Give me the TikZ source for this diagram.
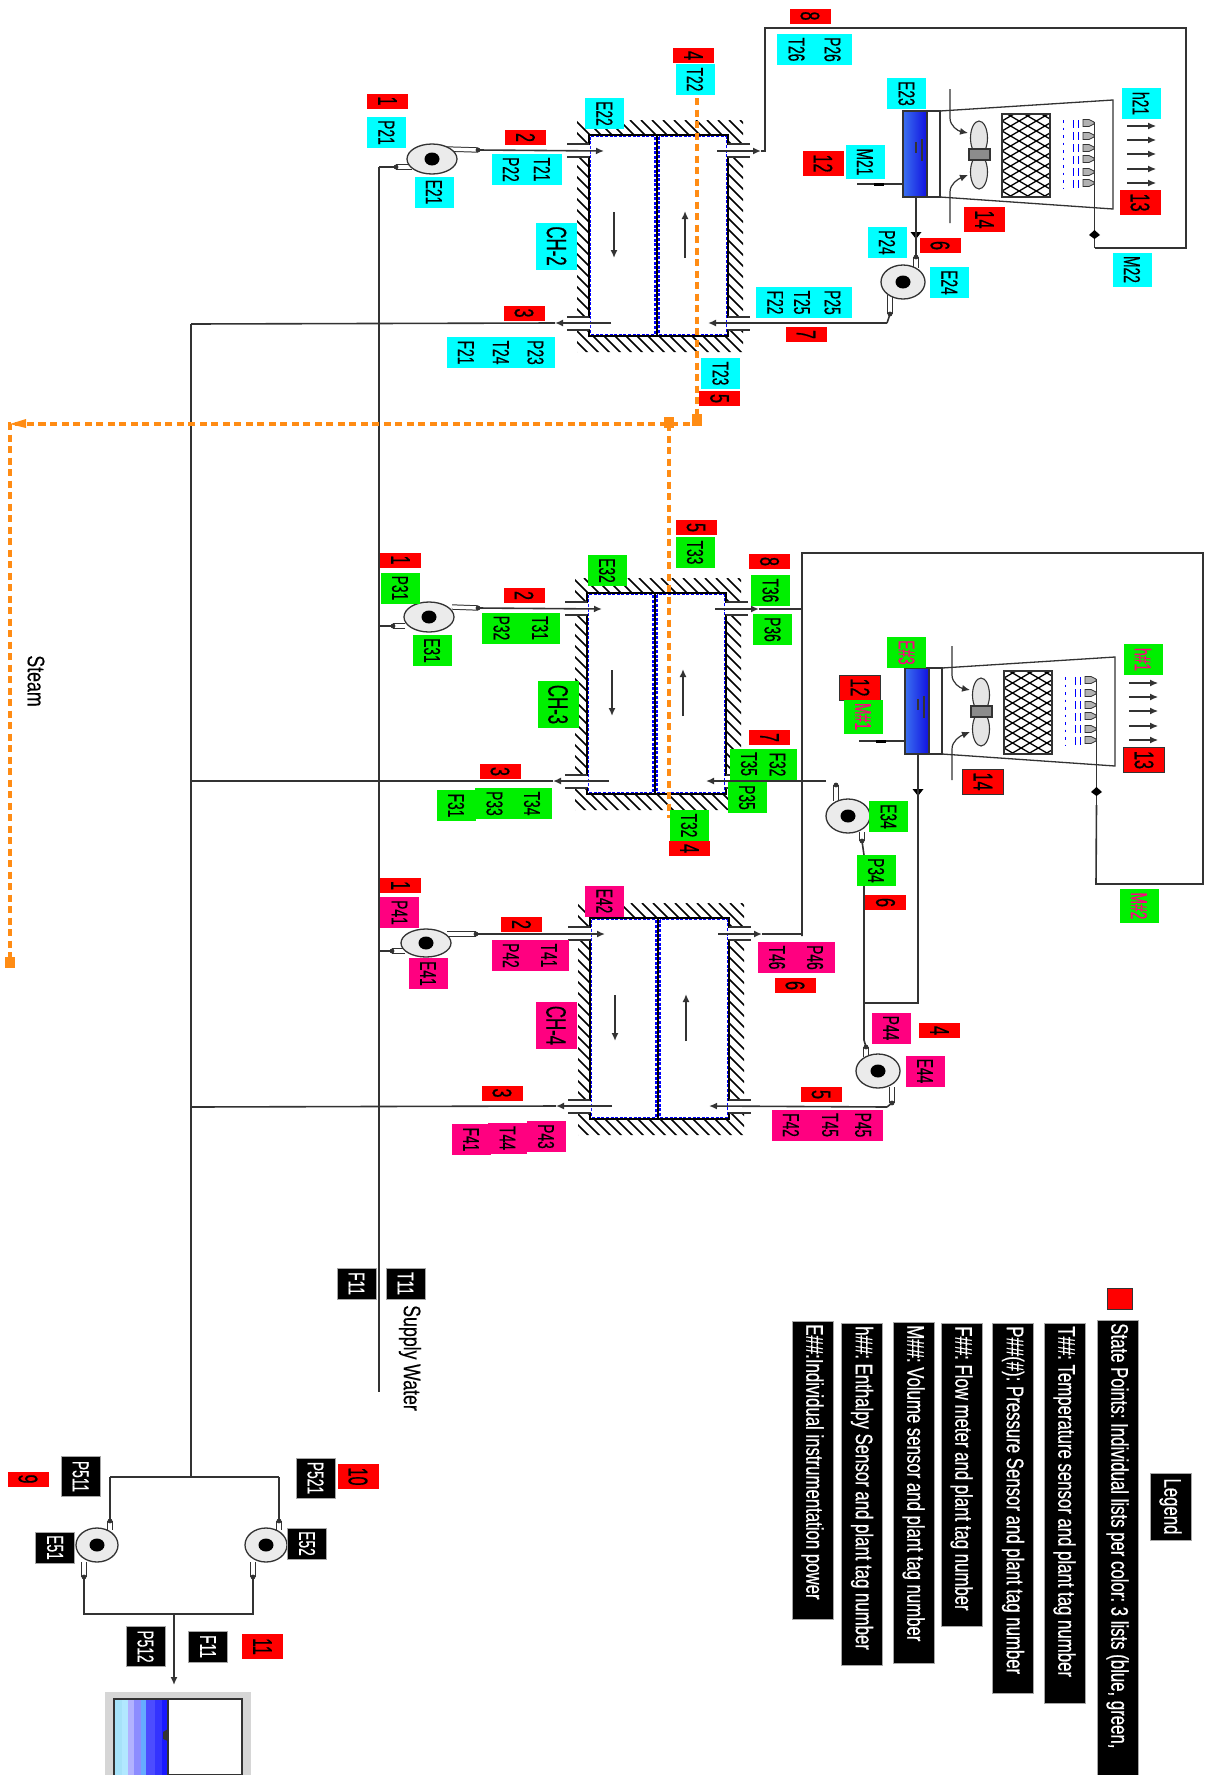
\documentclass[tikz,border=0pt]{standalone}
\usepackage{fontspec}
\usetikzlibrary{arrows.meta,shapes.geometric}
\setmainfont{Liberation Sans}
\newfontfamily\tagf[FakeStretch=0.60,FakeBold=0.4]{Liberation Sans}
\newfontfamily\legf[FakeStretch=0.70,FakeBold=0.5]{Liberation Sans}
\newfontfamily\labf[FakeStretch=0.74,FakeBold=0.3]{Liberation Sans}
\newcommand{\tagfnt}{\tagf\fontsize{23}{23}\selectfont}
\newcommand{\redfnt}{\tagf\fontsize{27}{27}\selectfont}
\newcommand{\chfnt}{\tagf\fontsize{28}{28}\selectfont}
\newcommand{\legfnt}{\legf\fontsize{24}{24}\selectfont}
\newcommand{\labfnt}{\labf\fontsize{24}{24}\selectfont}
\newcommand{\legline}[1]{\mbox{\spaceskip=4.6pt\relax\xspaceskip=4.6pt\relax #1}}
\definecolor{tcy}{HTML}{00FFFF}
\definecolor{tgr}{HTML}{00F000}
\definecolor{tpk}{HTML}{FF0080}
\definecolor{tred}{HTML}{FF0000}
\definecolor{pipec}{HTML}{333333}
\definecolor{steamc}{HTML}{FF8C14}
\definecolor{basinl}{HTML}{3A70F0}
\definecolor{basinr}{HTML}{1010E0}
\tikzset{
 ct/.style={rectangle,rotate=-90,inner sep=0pt,minimum width=31pt,minimum height=39pt,font=\tagfnt,text=black},
 cyt/.style={ct,fill=tcy},
 grt/.style={ct,fill=tgr},
 grp/.style={ct,fill=tgr,text=tpk},
 pkt/.style={ct,fill=tpk},
 blt/.style={ct,fill=black,text=white,draw=gray!70,line width=.6pt},
 redt/.style={ct,fill=tred,minimum width=15pt,minimum height=41pt,font=\redfnt},
 redw/.style={redt,minimum width=25pt},
 redb/.style={redw,draw=black!80,line width=1pt},
 chcy/.style={cyt,minimum width=47pt,minimum height=41pt,font=\chfnt},
 chgr/.style={grt,minimum width=47pt,minimum height=41pt,font=\chfnt},
 chpk/.style={pkt,minimum width=47pt,minimum height=41pt,font=\chfnt},
 legbox/.style={rectangle,rotate=-90,anchor=west,inner xsep=3pt,inner ysep=0pt,minimum height=41pt,fill=black,draw=gray!70,line width=.6pt,text=white,font=\legfnt,align=left},
 pipe/.style={draw=pipec,line width=1.6pt,>={Latex[length=8pt,width=7pt]}},
 stubp/.style={draw=pipec,double=white,double distance=3.4pt,line width=1pt},
 steam/.style={draw=steamc,line width=3.6pt,dash pattern=on 7pt off 4.5pt},
 steamdot/.style={fill=steamc},
 pumpbody/.style={ellipse,draw=pipec,fill=black!8,line width=1.3pt,inner sep=0pt},
 hatchl/.style={draw=black,line width=1.6pt},
 bluedash/.style={draw=blue,line width=1.1pt,dash pattern=on 3pt off 1.6pt},
}
\newcommand{\chamberbox}[3]{%
 \begin{scope}[shift={(#2,#3)}]
  \begin{scope}[even odd rule]
   \clip (-12,-15) rectangle (154,217) (0,0) rectangle (139,201);
   \foreach \i in {-245,-234,...,155} \draw[hatchl] (\i,-15) -- ++(240,240);
  \end{scope}
  \fill[white] (-13,9) rectangle (0,22) (-13,182) rectangle (0,195) (139,9) rectangle (155,22) (139,182) rectangle (155,195);
  \node (#1) [rectangle,draw=black,fill=white,line width=1.3pt,inner sep=0pt,minimum width=139pt,minimum height=201pt] at (69.5,100.5) {};
  \draw[bluedash] (1.8,1.8) rectangle (66,199.2);
  \draw[bluedash] (70,1.8) rectangle (137.2,199.2);
  \draw[draw=black,line width=2pt] (68,0) -- (68,201);
  \fill[white] (-1,10) rectangle (1,21) (-1,183) rectangle (1,194) (138,10) rectangle (140,21) (138,183) rectangle (140,194);
  \foreach \y in {9,22,182,195} {\draw[pipe,line width=1.2pt] (-22,\y) -- (0,\y); \draw[pipe,line width=1.2pt] (139,\y) -- (161,\y);}
  \coordinate (#1-ti) at (15,16);
  \coordinate (#1-to) at (128,16);
  \coordinate (#1-tt) at (172,16);
  \coordinate (#1-bo) at (22,188);
  \coordinate (#1-bt) at (-34,188);
  \coordinate (#1-bi) at (119,188);
  \draw[pipe,->] (#1-to) -- (#1-tt);
  \draw[pipe,->] (#1-bo) -- (#1-bt);
  \draw[pipe,->] (25,77) -- (25,123);
  \draw[pipe,->] (96,123) -- (96,76);
 \end{scope}}
\newcommand{\towerbox}[3]{%
 \begin{scope}[shift={(#2,#3)}]
  \draw[pipe,line width=1.3pt,fill=white] (37,0) -- (210,-11) -- (210,98) -- (37,86) -- cycle;
  \draw[pipe,fill=white] (24,0) rectangle (37,86);
  \shade[left color=basinl,right color=basinr,draw=pipec,line width=1.6pt] (0,0) rectangle (24,86);
  \coordinate (#1-b) at (13,86);
  \coordinate (#1-bm) at (13,124);
  \draw[pipe,line width=1.2pt] (13,31) -- (13,42);
  \draw[pipe,line width=1.2pt] (19,28) -- (19,50);
  \draw[pipe,->,line width=1.2pt] (47,-22) -- (47,7) .. controls (47,15) and (55,20) .. (65,22);
  \draw[pipe,->,line width=1.2pt] (47,112) -- (47,81) .. controls (47,73) and (55,68) .. (65,64);
  \draw[pipe,line width=1.1pt,fill=black!10] (76,27) ellipse [x radius=8.5pt,y radius=17pt];
  \draw[pipe,line width=1.1pt,fill=black!10] (76,61) ellipse [x radius=8.5pt,y radius=17pt];
  \draw[pipe,line width=1.1pt,fill=black!45] (66,38) rectangle (87,49);
  \begin{scope}
   \clip (99,3) rectangle (147,86);
   \foreach \i in {-40,-30,...,120} {\draw[draw=black,line width=1.3pt] (99,\i) -- ++(48,28); \draw[draw=black,line width=1.3pt] (99,\i) -- ++(48,-28);}
  \end{scope}
  \draw[pipe,line width=1.6pt] (99,3) rectangle (147,86);
  \draw[blue,line width=1pt,dash pattern=on 2.5pt off 5pt] (160,9) -- (160,77);
  \draw[blue,line width=1pt,dash pattern=on 8pt off 4pt] (170,9) -- (170,77);
  \draw[blue,line width=1pt,dash pattern=on 8pt off 4pt] (175,9) -- (175,77);
  \foreach \y in {12,25,37,48,61,72} \draw[draw=pipec,line width=.8pt,fill=black!30] (180,{\y-3.5}) -- (186,{\y-3.5}) -- (191,{\y-1}) -- (191,{\y+1}) -- (186,{\y+3.5}) -- (180,{\y+3.5}) -- cycle;
  \coordinate (#1-h0) at (191.5,11);
  \coordinate (#1-hm) at (191.5,124);
  \coordinate (#1-h) at (191.5,137);
  \draw[pipe] (#1-h) -- (#1-h0);
  \fill[black] (186,124) -- (191.5,119) -- (197,124) -- (191.5,128) -- cycle;
  \fill[black] (7.5,121) -- (18.5,121) -- (13,128) -- cycle;
  \foreach \y in {15,29,43,58,72} \draw[pipe,->,line width=1.1pt] (224,\y) -- (253,\y);
  \coordinate (#1-w0) at (-46,73);
  \coordinate (#1-w1) at (0,73);
  \draw[pipe,line width=1.2pt] (#1-w0) -- (#1-w1);
  \fill[black] (-29,71.5) rectangle (-19,74.5);
 \end{scope}}
\newcommand{\pumpn}[5]{%
 \node (#1) [pumpbody,minimum width=#4pt,minimum height=#5pt] at (#2,#3) {};
 \fill[black] (#2,#3) ellipse [x radius=7.5pt,y radius=6.5pt];}
\newcommand{\stubn}[5]{%
 \coordinate (#1a) at (#2,#3);
 \coordinate (#1b) at (#4,#5);
 \draw[stubp] (#1a) -- (#1b);
 \fill[pipec] (#1b) circle [radius=2.4pt];}
\begin{document}
\begin{tikzpicture}[x=1pt,y=-1pt]
\useasboundingbox (0,0) rectangle (1217,1775);
\clip (0,0) rectangle (1217,1775);
% chambers and towers
\chamberbox{c2}{589}{135}
\chamberbox{c3}{587}{593}
\chamberbox{c4}{590}{918}
\towerbox{t2}{903}{111}
\towerbox{t3}{905}{668}
% pumps
\stubn{s21i}{412}{167}{396}{167}
\stubn{s21o}{447}{149}{478}{150}
\stubn{s31i}{405}{626}{393}{626}
\stubn{s31o}{452}{607}{478}{608}
\stubn{s41i}{405}{951}{392}{951}
\stubn{s41o}{447}{934}{476}{934}
\stubn{s24i}{916}{268}{916}{257}
\stubn{s24o}{890}{295}{890}{314}
\stubn{s34i}{862}{832}{862}{841}
\stubn{s34o}{836}{801}{836}{785}
\stubn{s44i}{866}{1057}{866}{1047}
\stubn{s44o}{892}{1087}{892}{1103}
\stubn{s51i}{110}{1530}{110}{1521}
\stubn{s51o}{84}{1562}{84}{1577}
\stubn{s52i}{279}{1530}{279}{1521}
\stubn{s52o}{253}{1562}{253}{1577}
\pumpn{p21}{432}{159}{50}{30}
\pumpn{p24}{903}{282}{44}{34}
\pumpn{p31}{429}{617}{50}{30}
\pumpn{p34}{848}{816}{44}{34}
\pumpn{p41}{426}{943}{50}{28}
\pumpn{p44}{878}{1071}{44}{34}
\pumpn{p51}{97}{1545}{42}{34}
\pumpn{p52}{266}{1545}{42}{34}
% pipe junctions
\coordinate (supTop) at (379,167);
\coordinate (supEnd) at (379,1392);
\coordinate (sup3) at (379,626);
\coordinate (sup4) at (379,951);
\coordinate (retTop) at (191,324);
\coordinate (ret3) at (191,781);
\coordinate (ret4) at (191,1107);
\coordinate (retEnd) at (191,1477);
\coordinate (headL) at (110,1477);
\coordinate (headR) at (279,1477);
\coordinate (dropL) at (84,1614);
\coordinate (dropR) at (253,1614);
\coordinate (dropM) at (174,1614);
\coordinate (tankTip) at (174,1685);
\coordinate (a1) at (765,151);
\coordinate (a2) at (765,28);
\coordinate (a3) at (1186,28);
\coordinate (a4) at (1186,248);
\coordinate (b1) at (802,553);
\coordinate (b2) at (1203,553);
\coordinate (b3) at (1203,884);
\coordinate (b4) at (1096,884);
\coordinate (b5) at (802,936);
\coordinate (b6) at (802,609);
\coordinate (b7) at (802,934);
\coordinate (d1) at (826,781);
\coordinate (d2) at (864,855);
\coordinate (d3) at (864,1040);
\coordinate (d4) at (864,1003);
\coordinate (d5) at (918,1003);
\coordinate (e1) at (887,323);
\coordinate (e2) at (887,1107);
% pipes
\draw[pipe] (supTop) -- (supEnd);
\draw[pipe] (supTop) -- (s21ib);
\draw[pipe] (sup3) -- (s31ib);
\draw[pipe] (sup4) -- (s41ib);
\draw[pipe,->] (s21ob) -- (c2-ti);
\draw[pipe,->] (s31ob) -- (c3-ti);
\draw[pipe,->] (s41ob) -- (c4-ti);
\draw[pipe] (c2-bt) -- (retTop);
\draw[pipe] (c3-bt) -- (ret3);
\draw[pipe] (c4-bt) -- (ret4);
\draw[pipe] (retTop) -- (retEnd);
\draw[pipe] (headL) -- (headR);
\draw[pipe] (headL) -- (s51ib);
\draw[pipe] (headR) -- (s52ib);
\draw[pipe] (s51ob) -- (dropL) -- (dropR) -- (s52ob);
\draw[pipe,->] (dropM) -- (tankTip);
\draw[pipe] (c2-tt) -- (a1) -- (a2) -- (a3) -- (a4) -- (t2-h);
\draw[pipe] (t2-b) -- (s24ib);
\draw[pipe] (s24ob) -- (e1);
\draw[pipe,->] (e1) -- (c2-bi);
\draw[pipe] (c3-tt) -- (b6);
\draw[pipe] (c4-tt) -- (b7);
\draw[pipe] (b5) -- (b1) -- (b2) -- (b3) -- (b4) -- (t3-h);
\draw[pipe,->] (d1) -- (c3-bi);
\draw[pipe] (s34ib) -- (d2) -- (d3) -- (s44ib);
\draw[pipe] (t3-b) -- (d5) -- (d4);
\draw[pipe] (s44ob) -- (e2);
\draw[pipe,->] (e2) -- (c4-bi);
% tank
\fill[black!16] (105,1692) rectangle (251,1775);
\draw[pipe,fill=white] (114,1699) rectangle (242,1775);
\fill[cyan!35!white] (115,1700) rectangle (122,1775);
\fill[blue!30!cyan!30!white] (122,1700) rectangle (128,1775);
\fill[blue!30!white] (128,1700) rectangle (134,1775);
\fill[blue!45!white] (134,1700) rectangle (141,1775);
\fill[blue!55!cyan!60!white] (141,1700) rectangle (146,1775);
\fill[blue!70!white] (146,1700) rectangle (155,1775);
\fill[blue!80!white] (155,1700) rectangle (162,1775);
\fill[blue!90!white] (162,1700) rectangle (168,1775);
\draw[pipe] (168,1699) -- (168,1775);
\fill[pipec] (168,1729) -- (163,1732) -- (163,1739) -- (168,1741) -- cycle;
% steam
\coordinate (st1) at (697,98);
\coordinate (st2) at (697,424);
\coordinate (st3) at (10,424);
\coordinate (st4) at (10,962);
\coordinate (st5) at (669,424);
\coordinate (st6) at (669,818);
\draw[steam] (st1) -- (st2) -- (st3) -- (st4);
\draw[steam] (st5) -- (st6);
\fill[steamdot] (692,414) rectangle (702,426);
\fill[steamdot] (664,417) rectangle (674,428);
\fill[steamdot] (10,424) -- (26,419) -- (26,428) -- cycle;
\fill[steamdot] (5,957) rectangle (15,968);
% tags CH-2
\node (r21) [redt] at (387.5,101) {1};
\node (tP21) [cyt] at (386.5,132.5) {P21};
\node (tE21) [cyt] at (434,192) {E21};
\node (r22) [redt] at (525.5,137.5) {2};
\node (tP22) [cyt] at (511,169.5) {P22};
\node (tT21) [cyt] at (542,169.5) {T21};
\node (tE22) [cyt] at (604.5,113.5) {E22};
\node (tCH2) [chcy] at (556.5,246) {CH-2};
\node (r24) [redt] at (693.5,55.5) {4};
\node (tT22) [cyt] at (695,79.5) {T22};
\node (tT23) [cyt] at (720.5,373.5) {T23};
\node (r25) [redt] at (719.5,398.5) {5};
\node (r23) [redt] at (524,313) {3};
\node (tF21) [cyt] at (466,352.5) {F21};
\node (tT24) [cyt] at (501,352.5) {T24};
\node (tP23) [cyt] at (535.5,352.5) {P23};
\node (r28) [redt] at (810,16) {8};
\node (tT26) [cyt] at (796.5,49.5) {T26};
\node (tP26) [cyt] at (832.5,49.5) {P26};
\node (tF22) [cyt] at (775.5,302.5) {F22};
\node (tT25) [cyt] at (802,302.5) {T25};
\node (tP25) [cyt] at (832.5,302.5) {P25};
\node (r27) [redt] at (806,334.5) {7};
\node (tE23) [cyt] at (906.5,93.5) {E23};
\node (th21) [cyt] at (1141,103.5) {h21};
\node (r213) [redw] at (1140,202.5) {13};
\node (r214) [redw] at (984.5,219.5) {14};
\node (r212) [redw] at (823,163.5) {12};
\node (tM21) [cyt,minimum width=34pt] at (865,162) {M21};
\node (tP24) [cyt] at (887,242.5) {P24};
\node (r26) [redt] at (940,245.5) {6};
\node (tE24) [cyt] at (949.5,282.5) {E24};
\node (tM22) [cyt,minimum width=34pt] at (1132,269.5) {M22};
% tags CH-3
\node (r31) [redt] at (400.5,560) {1};
\node (tP31) [grt] at (400,588) {P31};
\node (tE31) [grt] at (432,650.5) {E31};
\node (r32) [redt] at (524,595.5) {2};
\node (tP32) [grt] at (501.5,628) {P32};
\node (tT31) [grt] at (540,628) {T31};
\node (tE32) [grt] at (607,570.5) {E32};
\node (r35) [redt] at (696,527.5) {5};
\node (tT33) [grt] at (695,552.5) {T33};
\node (r38) [redt] at (769.5,561.5) {8};
\node (tT36) [grt] at (770.5,590.5) {T36};
\node (tP36) [grt] at (772.5,629.5) {P36};
\node (tCH3) [chgr] at (558,704.5) {CH-3};
\node (r37) [redt] at (769.5,737.5) {7};
\node (tF32) [grt] at (777.5,764.5) {F32};
\node (tT35) [grt] at (749,764) {T35};
\node (tP35) [grt] at (747,797.5) {P35};
\node (tT32) [grt] at (689,825.5) {T32};
\node (r34) [redt] at (689.5,848.5) {4};
\node (r33) [redt] at (500,771.5) {3};
\node (tF31) [grt] at (456,805.5) {F31};
\node (tP33) [grt] at (494.5,803.5) {P33};
\node (tT34) [grt] at (532,803.5) {T34};
\node (tE33) [grp] at (906.5,652.5) {E\#3};
\node (th31) [grp] at (1143,659.5) {h\#1};
\node (r313) [redb] at (1144,760) {13};
\node (r314) [redb] at (983,781.5) {14};
\node (r312) [redb] at (860,687.5) {12};
\node (tM31) [grp,minimum width=34pt] at (863,716.5) {M\#1};
\node (tE34) [grt] at (888.5,816.5) {E34};
\node (tP34) [grt] at (876,870.5) {P34};
\node (r36) [redt] at (885.5,902.5) {6};
\node (tM32) [grp,minimum width=34pt] at (1139,906) {M\#2};
% tags CH-4
\node (r41) [redt] at (400.5,885.5) {1};
\node (tP41) [pkt] at (399.5,912.5) {P41};
\node (tE41) [pkt] at (428,973.5) {E41};
\node (r42) [redt] at (521.5,924.5) {2};
\node (tP42) [pkt] at (511,955.5) {P42};
\node (tT41) [pkt] at (549,955.5) {T41};
\node (tE42) [pkt] at (604.5,901) {E42};
\node (tCH4) [chpk] at (556,1025.5) {CH-4};
\node (r43) [redt] at (502,1093) {3};
\node (tF41) [pkt] at (471,1139.5) {F41};
\node (tT44) [pkt] at (507.5,1138) {T44};
\node (tP43) [pkt] at (546,1136.5) {P43};
\node (tT46) [pkt] at (777,957.5) {T46};
\node (tP46) [pkt] at (815,957.5) {P46};
\node (r46) [redt] at (795,985.5) {6};
\node (tP44) [pkt] at (891,1028) {P44};
\node (r44) [redt] at (939.5,1030.5) {4};
\node (tE44) [pkt] at (925,1071) {E44};
\node (r45) [redt] at (821,1094.5) {5};
\node (tF42) [pkt] at (791,1125) {F42};
\node (tT45) [pkt] at (830,1125) {T45};
\node (tP45) [pkt] at (863,1125) {P45};
% tags bottom
\node (tP511) [blt,minimum width=40pt] at (80.5,1476.5) {P511};
\node (r9) [redt] at (28,1479) {9};
\node (tP521) [blt,minimum width=40pt] at (315.5,1478) {P521};
\node (r10) [redw] at (358,1476.5) {10};
\node (tE51) [blt] at (55,1547.5) {E51};
\node (tE52) [blt] at (307,1543.5) {E52};
\node (tP512) [blt,minimum width=40pt] at (145.5,1646.5) {P512};
\node (tF11a) [blt] at (208,1646.5) {F11};
\node (r11) [redw] at (262.5,1646.5) {11};
\node (tF11b) [blt] at (356.5,1283.5) {F11};
\node (tT11) [blt] at (405.5,1283.5) {T11};
\node (lSupply) [rotate=-90,inner sep=0pt,font=\labfnt] at (410,1358) {\legline{Supply Water}};
\node (lSteam) [rotate=-90,inner sep=0pt,font=\labfnt] at (36,681) {Steam};
% legend
\node (lgTitle) [legbox,anchor=center,minimum width=67pt,align=center] at (1170.5,1506.5) {Legend};
\node (lgKey) [rectangle,fill=tred,draw=black!80,line width=1pt,inner sep=0pt,minimum width=25pt,minimum height=21pt] at (1119.5,1298.5) {};
\node (lgS) [legbox,text width=470pt] at (1117.5,1320) {\legline{State Points: Individual lists per color: 3 lists (blue, green,}};
\node (lgT) [legbox,text width=374pt] at (1064.5,1323) {\legline{T\#\#: Temperature sensor and plant tag number}};
\node (lgP) [legbox,text width=364pt] at (1013,1323) {\legline{P\#\#(\#): Pressure Sensor and plant tag number}};
\node (lgF) [legbox,text width=297pt] at (961.5,1323) {\legline{F\#\#: Flow meter and plant tag number}};
\node (lgM) [legbox,text width=335pt] at (913.5,1322) {\legline{M\#\#: Volume sensor and plant tag number}};
\node (lgH) [legbox,text width=336pt] at (862,1323) {\legline{h\#\#: Enthalpy Sensor and plant tag number}};
\node (lgE) [legbox,text width=292pt] at (812.5,1321) {\legline{E\#\#:Individual instrumentation power}};
\end{tikzpicture}
\end{document}
